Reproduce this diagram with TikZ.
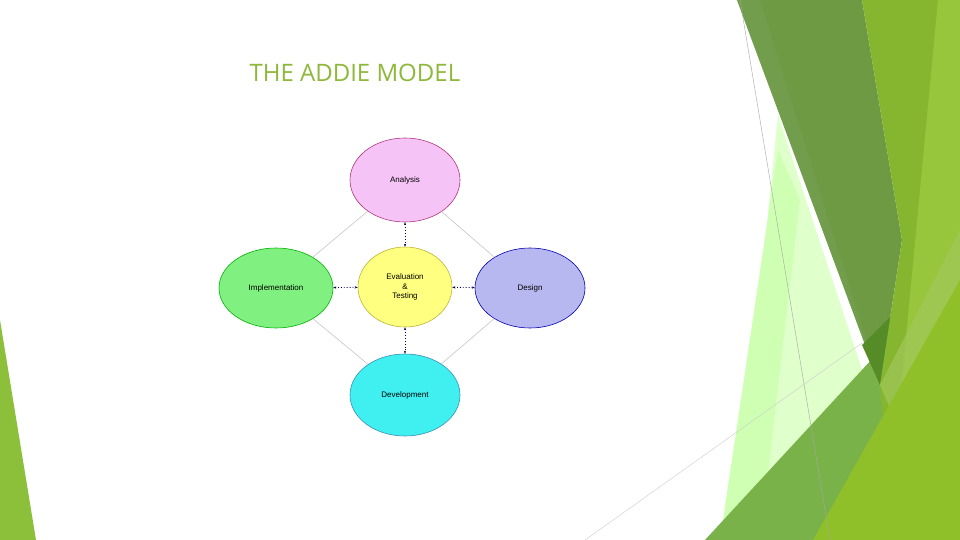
\documentclass[tikz,border=0pt]{standalone}
\usepackage{fontspec}
\setmainfont{Liberation Sans}
\newfontfamily\titlefont{Open Sans}
\usetikzlibrary{shapes.geometric,arrows.meta}
\begin{document}
\begin{tikzpicture}[x=1pt,y=-1pt,
  ell/.style={ellipse,draw=#1!70!black,line width=0.6pt,inner sep=0pt,font=\fontsize{8}{9.5}\selectfont,align=center},
  link/.style={draw=gray!45,line width=0.6pt},
  dotarrow/.style={draw=blue!30!black,dotted,line width=0.9pt,{Stealth[length=3pt]}-{Stealth[length=3pt]}}]
\useasboundingbox (0,0) rectangle (960,540);
\fill[white] (0,0) rectangle (960,540);
% right decoration
\fill[green!50!lime!25!white,opacity=0.8] (778,115) -- (872,400) -- (838,540) -- (735,540) -- cycle;
\fill[green!50!lime!30!white] (720,540) -- (778,150) -- (800,200) -- (760,540) -- cycle;
\fill[fill={rgb,255:red,122;green,178;blue,74}] (705,540) -- (885,345) -- (905,540) -- cycle;
\fill[fill={rgb,255:red,110;green,154;blue,68}] (737,0) -- (862,0) -- (902,240) -- (880,385) -- cycle;
\fill[fill={rgb,255:red,116;green,160;blue,82},opacity=0.6] (737,0) -- (760,0) -- (880,385) -- cycle;
\fill[fill={rgb,255:red,85;green,140;blue,40}] (862,345) -- (892,315) -- (880,385) -- cycle;
\fill[fill={rgb,255:red,134;green,181;blue,47}] (862,0) -- (960,0) -- (960,540) -- (895,540) -- (880,385) -- (902,240) -- cycle;
\fill[fill={rgb,255:red,151;green,198;blue,60}] (938,0) -- (960,0) -- (960,540) -- (885,540) -- (902,380) -- cycle;
\fill[fill={rgb,255:red,160;green,200;blue,90},opacity=0.7] (880,385) -- (960,230) -- (960,290) -- (895,420) -- cycle;
\fill[fill={rgb,255:red,143;green,192;blue,42}] (813,540) -- (960,280) -- (960,540) -- cycle;
\draw[gray!70,line width=0.4pt] (740,0) -- (830,540);
\draw[gray!40,line width=0.4pt] (585,540) -- (862,343);
\fill[fill={rgb,255:red,141;green,192;blue,58}] (0,320) -- (36,540) -- (0,540) -- cycle;
% title
\node[anchor=west,font=\titlefont\fontsize{24}{28}\selectfont,text={rgb,255:red,141;green,184;blue,58}] (title) at (246,73) {THE ADDIE MODEL};
% diagram
\node[ell=magenta,fill={rgb,255:red,245;green,195;blue,245},minimum width=110pt,minimum height=84pt] (an) at (405,180) {Analysis};
\node[ell=yellow,fill={rgb,255:red,255;green,255;blue,128},minimum width=94pt,minimum height=80pt] (ev) at (405,287) {Evaluation\\\&\\Testing};
\node[ell=green,fill={rgb,255:red,128;green,240;blue,128},minimum width=114pt,minimum height=80pt] (im) at (276,288) {Implementation};
\node[ell=blue,fill={rgb,255:red,184;green,184;blue,240},minimum width=110pt,minimum height=80pt] (de) at (530,288) {Design};
\node[ell=cyan,fill={rgb,255:red,64;green,240;blue,240},minimum width=110pt,minimum height=82pt] (dv) at (405,395) {Development};
\draw[link] (an) -- (im);
\draw[link] (an) -- (de);
\draw[link] (dv) -- (im);
\draw[link] (dv) -- (de);
\draw[dotarrow] (an) -- (ev);
\draw[dotarrow] (ev) -- (dv);
\draw[dotarrow] (im) -- (ev);
\draw[dotarrow] (ev) -- (de);
\end{tikzpicture}
\end{document}
